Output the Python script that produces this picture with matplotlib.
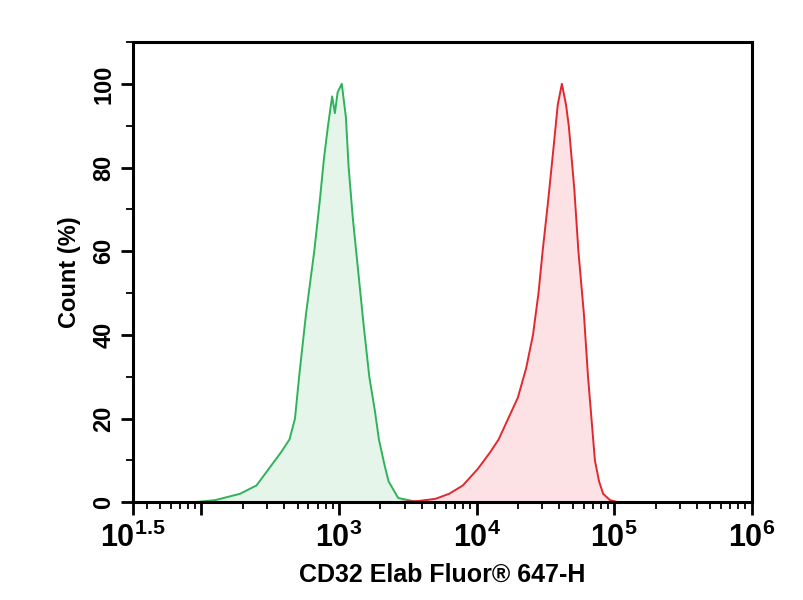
import numpy as np
import matplotlib
matplotlib.use('Agg')
import matplotlib.pyplot as plt
from matplotlib.ticker import FixedLocator, NullFormatter

# Histogram outlines: log10(fluorescence) and count (%)
green_log = [1.95, 2.1, 2.28, 2.4, 2.49, 2.58, 2.64, 2.68, 2.71, 2.76, 2.82, 2.86, 2.89, 2.92,
             2.95, 2.97, 2.99, 3.02, 3.05, 3.07, 3.1, 3.14, 3.18, 3.22, 3.26, 3.29, 3.33,
             3.36, 3.43, 3.58]
green_cnt = [0, 0.5, 2, 4, 8, 12, 15, 20, 30, 45, 60, 72, 82, 90,
             97, 93, 98, 100, 92, 80, 68, 55, 42, 30, 22, 15, 9,
             5, 1, 0]
red_log = [3.4, 3.58, 3.7, 3.8, 3.9, 4.01, 4.1, 4.16, 4.23, 4.3, 4.36, 4.41, 4.45, 4.48, 4.52,
           4.56, 4.59, 4.62, 4.65, 4.67, 4.71, 4.74, 4.78, 4.81, 4.84, 4.86, 4.89, 4.92, 4.97, 5.03]
red_cnt = [0, 0.3, 0.8, 2, 4, 8, 12, 15, 20, 25, 32, 40, 50, 60, 72,
           85, 95, 100, 95, 90, 75, 60, 45, 30, 18, 10, 5, 2, 0.5, 0]

xtick_exp = [1.5, 2, 3, 4, 5, 6]
xtick_labels = [r'$\mathbf{10^{1.5}}$', '', r'$\mathbf{10^{3}}$', r'$\mathbf{10^{4}}$',
                r'$\mathbf{10^{5}}$', r'$\mathbf{10^{6}}$']
ytick_vals = [0, 20, 40, 60, 80, 100]

plt.rcParams['font.family'] = 'Liberation Sans'
plt.rcParams['mathtext.fontset'] = 'custom'
plt.rcParams['mathtext.rm'] = 'Liberation Sans'
plt.rcParams['mathtext.bf'] = 'Liberation Sans:bold'

fig = plt.figure(figsize=(8.04, 6.0), dpi=100)
ax = fig.add_axes([0.165, 0.163, 0.77, 0.767])

gx = 10 ** np.array(green_log)
rx = 10 ** np.array(red_log)
ax.fill_between(gx, green_cnt, color='#2db35a', alpha=0.12, lw=0)
ax.plot(gx, green_cnt, color='#2db35a', lw=1.4)
ax.fill_between(rx, red_cnt, color='#f06070', alpha=0.18, lw=0)
ax.plot(rx, red_cnt, color='#e0282e', lw=1.4)

ax.set_xscale('log')
ax.set_xlim(10 ** 1.5, 1e6)
ax.set_ylim(0, 110)

ax.xaxis.set_major_locator(FixedLocator([10 ** e for e in xtick_exp]))
ax.set_xticklabels(xtick_labels)
minors = [m * 10 ** d for d in range(1, 6) for m in range(2, 10) if 10 ** 1.5 < m * 10 ** d < 1e6]
ax.xaxis.set_minor_locator(FixedLocator(minors))
ax.xaxis.set_minor_formatter(NullFormatter())

ax.set_yticks(ytick_vals)
ax.set_yticklabels([str(v) for v in ytick_vals], rotation=90, va='center')
ax.set_yticks(np.arange(0, 111, 10), minor=True)

for s in ax.spines.values():
    s.set_linewidth(2.2)
ax.tick_params(which='major', length=9, width=2)
ax.tick_params(which='minor', length=5, width=1.3)
ax.tick_params(axis='x', labelsize=22, pad=6)
ax.tick_params(axis='y', labelsize=17)
for lab in ax.get_yticklabels():
    lab.set_fontweight('bold')

ax.set_xlabel('CD32 Elab Fluor® 647-H', fontsize=18, fontweight='bold', labelpad=6)
ax.set_ylabel('Count (%)', fontsize=17, fontweight='bold', labelpad=8)

fig.savefig('out.png', dpi=100)
